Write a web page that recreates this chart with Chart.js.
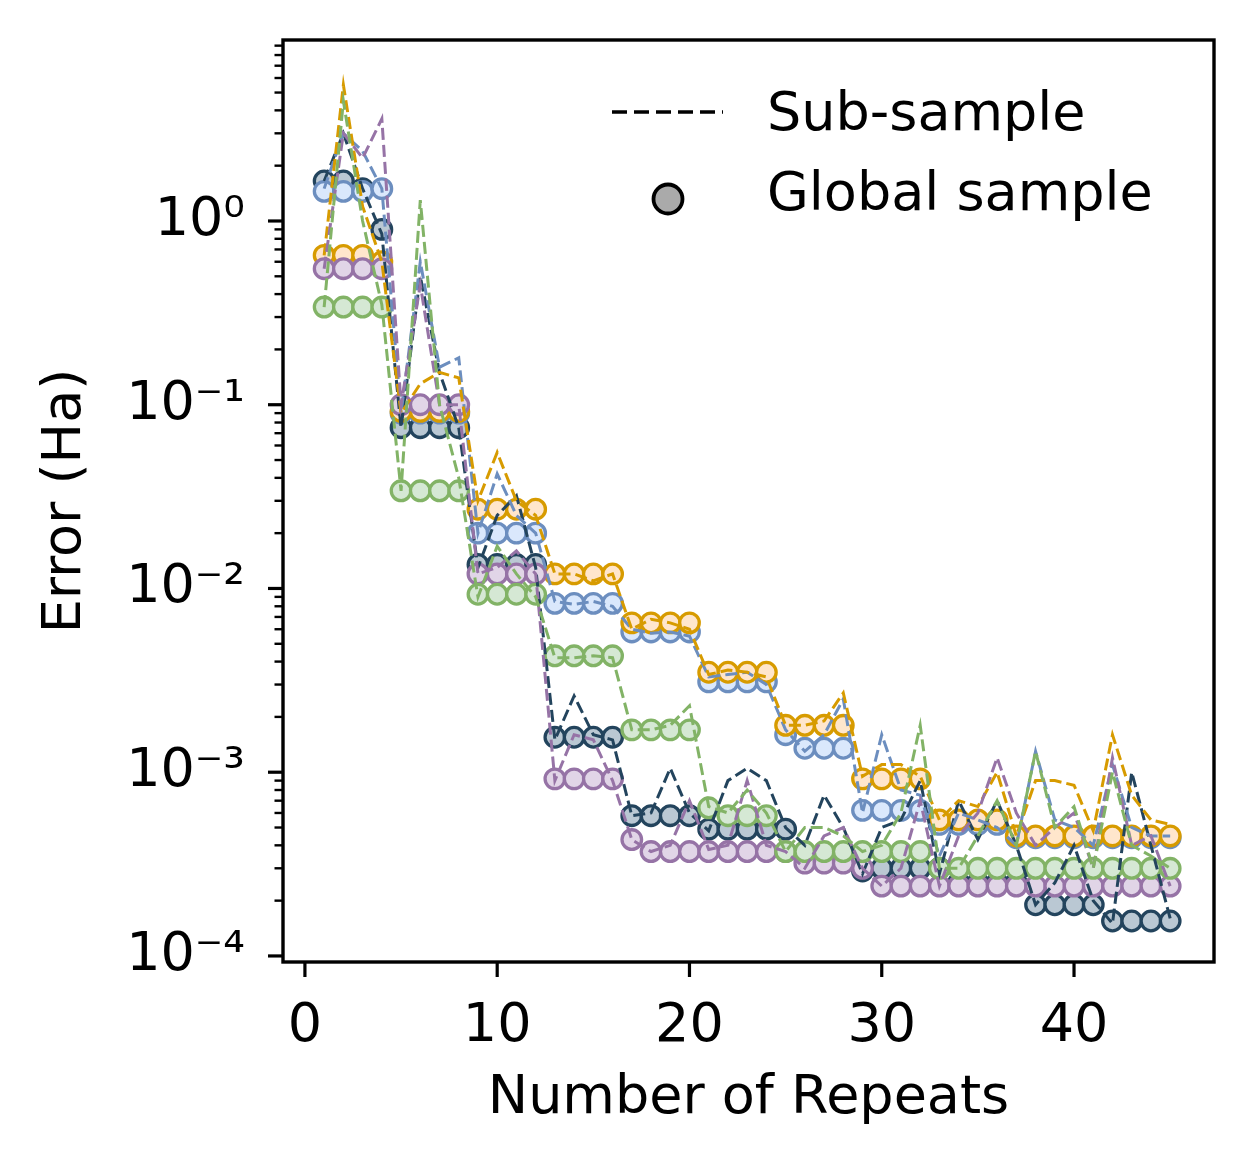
<!DOCTYPE html>
<html>
<head>
<meta charset="utf-8">
<script src="https://cdn.jsdelivr.net/npm/chart.js@4.4.1/dist/chart.umd.min.js"></script>
<style>
  body { margin: 0; background: #fff; }
  #wrap { width: 1253px; height: 1173px; }
</style>
</head>
<body>
<div id="wrap"><canvas id="grafico" width="1253" height="1173"></canvas></div>
<script>
const repeats = [1, 2, 3, 4, 5, 6, 7, 8, 9, 10, 11, 12, 13, 14, 15, 16, 17, 18, 19, 20,
  21, 22, 23, 24, 25, 26, 27, 28, 29, 30, 31, 32, 33, 34, 35, 36, 37, 38, 39, 40,
  41, 42, 43, 44, 45];

// sub-sample errors (dashed lines)
const subNavy = [1.65, 3.0, 1.5, 0.85, 0.075, 0.5, 0.15, 0.075, 0.013, 0.025, 0.032, 0.013,
  0.0015, 0.0026, 0.0016, 0.0015, 0.00058, 0.0006, 0.00105, 0.0006, 0.00048, 0.0009, 0.00105, 0.0009,
  0.0005, 0.0004, 0.00075, 0.0005, 0.00028, 0.0005, 0.00055, 0.0009, 0.00028, 0.0007, 0.00043, 0.0007,
  0.0004, 0.00019, 0.00025, 0.0004, 0.0002, 0.00015, 0.001, 0.0004, 0.00016];
const subBlue = [1.5, 3.0, 2.4, 1.5, 0.09, 0.6, 0.16, 0.18, 0.02, 0.042, 0.025, 0.02,
  0.0085, 0.0082, 0.0085, 0.008, 0.006, 0.0057, 0.0058, 0.0055, 0.0033, 0.0034, 0.0035, 0.003,
  0.0017, 0.0013, 0.0016, 0.0025, 0.0006, 0.0016, 0.0008, 0.00075, 0.00035, 0.0006, 0.00055, 0.0005,
  0.0004, 0.0013, 0.00055, 0.0005, 0.0004, 0.0011, 0.0005, 0.00045, 0.00045];
const subOrange = [0.65, 5.5, 1.2, 0.6, 0.09, 0.13, 0.15, 0.14, 0.03, 0.055, 0.03, 0.025,
  0.012, 0.012, 0.011, 0.012, 0.006, 0.0068, 0.0065, 0.006, 0.0034, 0.0036, 0.0035, 0.0033,
  0.0018, 0.0018, 0.0019, 0.0027, 0.00095, 0.0011, 0.0011, 0.00095, 0.00055, 0.0007, 0.00065, 0.001,
  0.00045, 0.0009, 0.0009, 0.00085, 0.00048, 0.0016, 0.00075, 0.00055, 0.00052];
const subPurple = [0.55, 3.0, 2.2, 3.6, 0.1, 0.45, 0.1, 0.1, 0.012, 0.013, 0.016, 0.012,
  0.0009, 0.0016, 0.0015, 0.0009, 0.00043, 0.00037, 0.0004, 0.0007, 0.00038, 0.0004, 0.0009, 0.0004,
  0.00037, 0.0003, 0.00045, 0.0005, 0.0003, 0.00024, 0.0003, 0.0007, 0.00024, 0.00045, 0.0006, 0.0012,
  0.0006, 0.0004, 0.0005, 0.0006, 0.0003, 0.0012, 0.0004, 0.00045, 0.00024];
const subGreen = [0.34, 4.5, 1.0, 0.35, 0.034, 1.3, 0.1, 0.04, 0.009, 0.017, 0.012, 0.009,
  0.0042, 0.0042, 0.0043, 0.0042, 0.0017, 0.0017, 0.0018, 0.0023, 0.00065, 0.0006, 0.0008, 0.0006,
  0.00037, 0.0005, 0.0005, 0.00045, 0.00037, 0.0004, 0.0006, 0.0018, 0.0003, 0.0003, 0.00045, 0.0007,
  0.0004, 0.0013, 0.0005, 0.00065, 0.0003, 0.001, 0.0004, 0.00035, 0.0003];

// global sample errors (circles)
const globNavy = [1.65, 1.65, 1.5, 0.9, 0.075, 0.075, 0.075, 0.075, 0.0135, 0.0135, 0.0135, 0.0135,
  0.00155, 0.00155, 0.00155, 0.00155, 0.00058, 0.00058, 0.00058, 0.00058, 0.00049, 0.00049, 0.00049, 0.00049,
  0.00049, 0.00036, 0.00036, 0.00036, 0.00029, 0.0003, 0.0003, 0.0003, 0.0003, 0.00025, 0.00025, 0.00025,
  0.00025, 0.00019, 0.00019, 0.00019, 0.00019, 0.000155, 0.000155, 0.000155, 0.000155];
const globBlue = [1.45, 1.45, 1.45, 1.5, 0.09, 0.09, 0.09, 0.09, 0.02, 0.02, 0.02, 0.02,
  0.0083, 0.0083, 0.0083, 0.0083, 0.0058, 0.0058, 0.0058, 0.0058, 0.0031, 0.0031, 0.0031, 0.0031,
  0.0016, 0.00135, 0.00135, 0.00135, 0.00062, 0.00062, 0.00062, 0.00062, 0.00052, 0.00052, 0.00052, 0.00052,
  0.00044, 0.00044, 0.00044, 0.00044, 0.00044, 0.00044, 0.00044, 0.00044, 0.00044];
const globOrange = [0.65, 0.65, 0.65, 0.6, 0.092, 0.092, 0.092, 0.092, 0.027, 0.027, 0.027, 0.027,
  0.012, 0.012, 0.012, 0.012, 0.0065, 0.0065, 0.0065, 0.0065, 0.0035, 0.0035, 0.0035, 0.0035,
  0.0018, 0.0018, 0.0018, 0.0018, 0.00092, 0.00092, 0.00092, 0.00092, 0.00055, 0.00055, 0.00055, 0.00055,
  0.00045, 0.00045, 0.00045, 0.00045, 0.00045, 0.00045, 0.00045, 0.00045, 0.00045];
const globPurple = [0.55, 0.55, 0.55, 0.55, 0.1, 0.1, 0.1, 0.1, 0.012, 0.012, 0.012, 0.012,
  0.00092, 0.00092, 0.00092, 0.00092, 0.00043, 0.00037, 0.00037, 0.00037, 0.00037, 0.00037, 0.00037, 0.00037,
  0.00037, 0.00032, 0.00032, 0.00032, 0.0003, 0.00024, 0.00024, 0.00024, 0.00024, 0.00024, 0.00024, 0.00024,
  0.00024, 0.00024, 0.00024, 0.00024, 0.00024, 0.00024, 0.00024, 0.00024, 0.00024];
const globGreen = [0.34, 0.34, 0.34, 0.34, 0.034, 0.034, 0.034, 0.034, 0.0093, 0.0093, 0.0093, 0.0093,
  0.0043, 0.0043, 0.0043, 0.0043, 0.0017, 0.0017, 0.0017, 0.0017, 0.00064, 0.00058, 0.00058, 0.00058,
  0.00037, 0.00037, 0.00037, 0.00037, 0.00037, 0.00037, 0.00037, 0.00037, 0.0003, 0.0003, 0.0003, 0.0003,
  0.0003, 0.0003, 0.0003, 0.0003, 0.0003, 0.0003, 0.0003, 0.0003, 0.0003];

const xTicks = [0, 10, 20, 30, 40];
const yPowers = [-4, -3, -2, -1, 0];

// first entry ends up on top (chart.js draws index 0 last)
const series = [
  { sub: subGreen,  glob: globGreen,  edge: '#82b366', fill: '#d5e8d4' },
  { sub: subPurple, glob: globPurple, edge: '#9673a6', fill: '#e1d5e7' },
  { sub: subOrange, glob: globOrange, edge: '#d79b00', fill: '#ffe6cc' },
  { sub: subBlue,   glob: globBlue,   edge: '#6c8ebf', fill: '#dae8fc' },
  { sub: subNavy,   glob: globNavy,   edge: '#23445d', fill: '#bac8d3' }
];

const pontos = vals => repeats.map((r, i) => ({ x: r, y: vals[i] }));

const datasets = [];
series.forEach(s => {
  datasets.push({
    data: pontos(s.sub),
    borderColor: s.edge,
    borderWidth: 3,
    borderDash: [12, 5],
    pointRadius: 0,
    tension: 0,
    order: 0
  });
});
series.forEach(s => {
  datasets.push({
    data: pontos(s.glob),
    showLine: false,
    pointRadius: 9.8,
    pointBorderWidth: 3.3,
    pointBorderColor: s.edge,
    pointBackgroundColor: s.fill,
    order: 1
  });
});

const sup = { '0': '\u2070', '1': '\u00b9', '2': '\u00b2', '3': '\u00b3', '4': '\u2074', '-': '\u207b' };
const FONT = "'DejaVu Sans', sans-serif";

// box, tick marks and legend drawn after the chart
const molduraPlugin = {
  id: 'moldura',
  afterDraw(chart) {
    const { ctx, chartArea: a, scales } = chart;
    ctx.save();
    ctx.strokeStyle = '#000';
    ctx.lineCap = 'butt';
    // x ticks
    ctx.lineWidth = 3.2;
    xTicks.forEach(v => {
      const px = scales.x.getPixelForValue(v);
      ctx.beginPath();
      ctx.moveTo(px, a.bottom);
      ctx.lineTo(px, a.bottom + 15);
      ctx.stroke();
    });
    // y ticks, major and minor
    scales.y.ticks.forEach(t => {
      const py = scales.y.getPixelForValue(t.value);
      if (py < a.top - 1 || py > a.bottom + 1) return;
      const major = Math.abs(Math.log10(t.value) - Math.round(Math.log10(t.value))) < 1e-9;
      ctx.lineWidth = major ? 3.2 : 2.4;
      ctx.beginPath();
      ctx.moveTo(a.left, py);
      ctx.lineTo(a.left - (major ? 15 : 8.5), py);
      ctx.stroke();
    });
    // frame
    ctx.lineWidth = 3.4;
    ctx.strokeRect(a.left, a.top, a.right - a.left, a.bottom - a.top);

    // legend
    ctx.lineWidth = 3.5;
    ctx.setLineDash([15, 7]);
    ctx.beginPath();
    ctx.moveTo(612, 112);
    ctx.lineTo(723, 112);
    ctx.stroke();
    ctx.setLineDash([]);
    ctx.beginPath();
    ctx.arc(668, 199, 14.5, 0, Math.PI * 2);
    ctx.fillStyle = '#aaaaaa';
    ctx.fill();
    ctx.lineWidth = 3.8;
    ctx.stroke();
    ctx.fillStyle = '#000';
    ctx.font = '54px ' + FONT;
    ctx.textBaseline = 'middle';
    ctx.textAlign = 'left';
    ctx.fillText('Sub-sample', 767, 116);
    ctx.fillText('Global sample', 767, 196);
    ctx.restore();
  }
};

const ctx = document.getElementById('grafico').getContext('2d');
const grafico = new Chart(ctx, {
  type: 'line',
  data: { datasets: datasets },
  plugins: [molduraPlugin],
  options: {
    responsive: false,
    animation: false,
    devicePixelRatio: 1,
    layout: { padding: { left: 0, top: 40, right: 39, bottom: 0 } },
    plugins: {
      legend: { display: false },
      tooltip: { enabled: false }
    },
    scales: {
      x: {
        type: 'linear',
        min: -1.14,
        max: 47.28,
        afterFit: s => { s.height = 211; s.paddingLeft = 0; s.paddingRight = 0; },
        afterBuildTicks: s => { s.ticks = xTicks.map(v => ({ value: v })); },
        grid: { display: false, drawTicks: false },
        border: { display: false },
        ticks: {
          padding: 33,
          color: '#000',
          font: { family: FONT, size: 54 },
          maxRotation: 0
        },
        title: {
          display: true,
          text: 'Number of Repeats',
          color: '#000',
          font: { family: FONT, size: 54 },
          padding: { top: 0, bottom: 42 }
        }
      },
      y: {
        type: 'logarithmic',
        min: 9.27e-5,
        max: 9.66,
        afterFit: s => { s.width = 283; s.paddingTop = 0; s.paddingBottom = 0; },
        afterBuildTicks: s => {
          const t = [];
          yPowers.forEach(p => {
            [1, 2, 3, 4, 5, 6, 7, 8, 9].forEach(m => t.push({ value: m * Math.pow(10, p) }));
          });
          s.ticks = t;
        },
        grid: { display: false, drawTicks: false },
        border: { display: false },
        ticks: {
          padding: 38,
          color: '#000',
          autoSkip: false,
          font: { family: FONT, size: 54 },
          callback: function (value) {
            const p = Math.log10(value);
            if (Math.abs(p - Math.round(p)) > 1e-9) return '';
            return '10' + String(Math.round(p)).split('').map(c => sup[c]).join('');
          }
        },
        title: {
          display: true,
          text: 'Error (Ha)',
          color: '#000',
          font: { family: FONT, size: 54 },
          padding: { top: 34, bottom: 0 }
        }
      }
    }
  }
});
</script>
</body>
</html>
